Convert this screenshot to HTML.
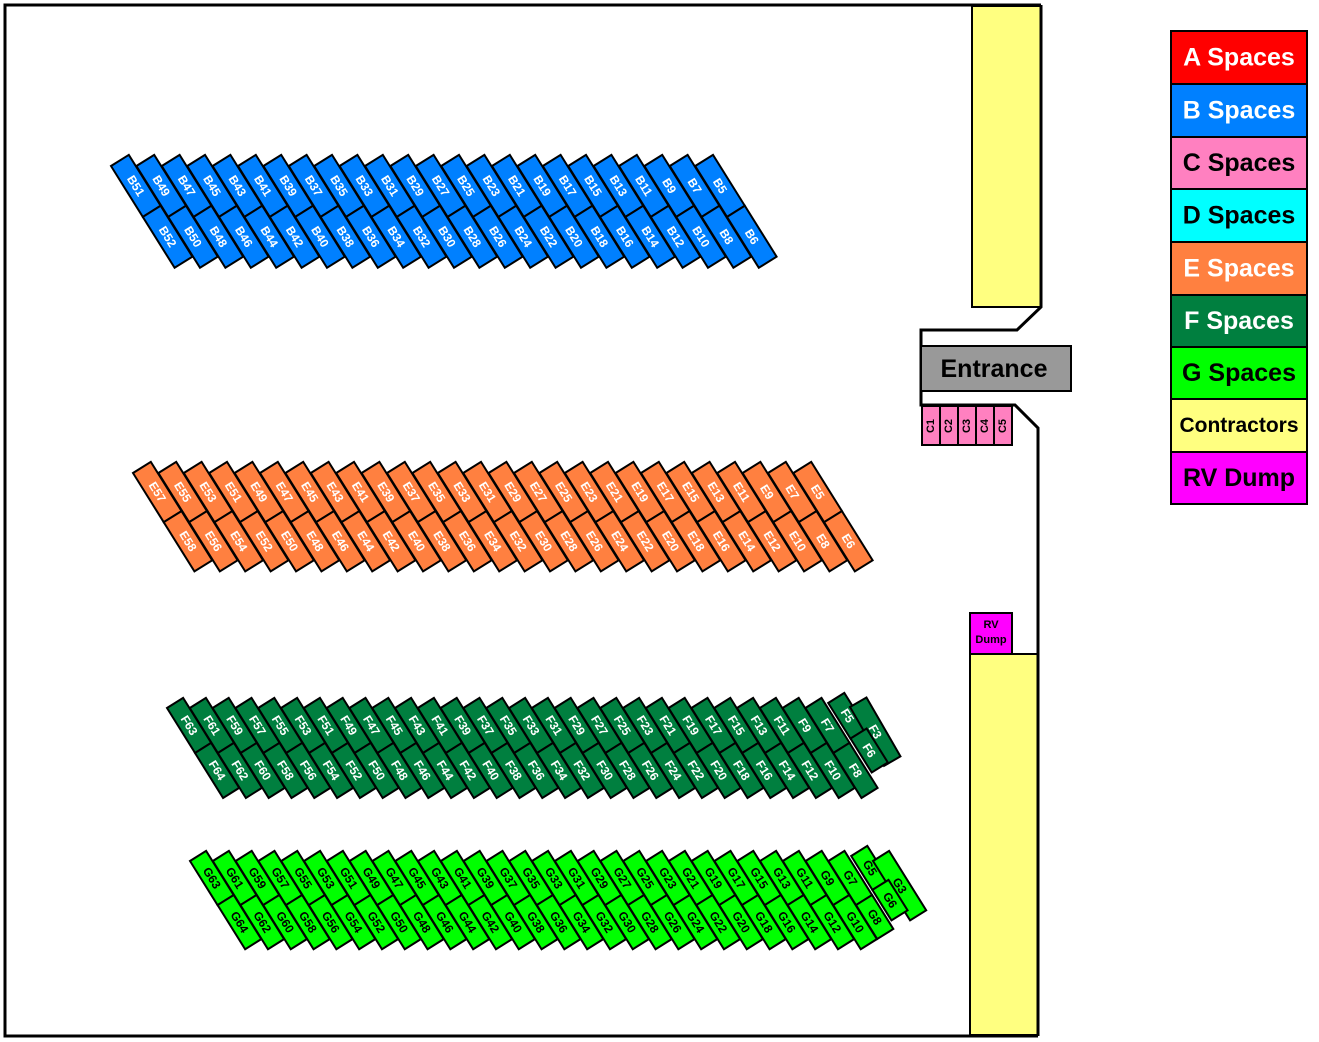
<!DOCTYPE html>
<html><head><meta charset="utf-8"><style>
html,body{margin:0;padding:0;background:#fff}
svg{display:block}
text{font-family:"Liberation Sans",sans-serif;font-weight:bold}
.st text{font-size:12px;text-anchor:middle;dominant-baseline:central}
.st rect{stroke:#000;stroke-width:2}
.b rect{fill:#0080ff}.b text{fill:#fff}
.e rect{fill:#ff8040}.e text{fill:#fff}
.f rect{fill:#007f3f}.f text{fill:#fff}
.g rect{fill:#00ff00}.g text{fill:#000}
.lg rect{stroke:#000;stroke-width:2}
.lg text{font-size:25px;dominant-baseline:central;text-anchor:middle}
</style></head><body>
<svg width="1319" height="1042" viewBox="0 0 1319 1042" xmlns="http://www.w3.org/2000/svg">
<rect x="972" y="6" width="69" height="301" fill="#ffff80" stroke="#000" stroke-width="2"/>
<rect x="970" y="654" width="68" height="381" fill="#ffff80" stroke="#000" stroke-width="2"/>
<path d="M1041,5 H5 V1036 H1038 M1041,5 V307 L1017,330 H921 V405 H1015 L1038,428 V1036" fill="none" stroke="#000" stroke-width="3"/>
<rect x="921" y="346" width="150" height="45" fill="#999" stroke="#000" stroke-width="2"/>
<text x="994" y="369" font-size="25" text-anchor="middle" dominant-baseline="central">Entrance</text>
<g fill="#ff80c0" stroke="#000" stroke-width="2">
<rect x="922" y="406" width="18" height="39"/><rect x="940" y="406" width="18" height="39"/><rect x="958" y="406" width="18" height="39"/><rect x="976" y="406" width="18" height="39"/><rect x="994" y="406" width="18" height="39"/>
</g>
<g font-size="11" text-anchor="middle" dominant-baseline="central">
<text transform="translate(931,426) rotate(-90)">C1</text><text transform="translate(949,426) rotate(-90)">C2</text><text transform="translate(967,426) rotate(-90)">C3</text><text transform="translate(985,426) rotate(-90)">C4</text><text transform="translate(1003,426) rotate(-90)">C5</text>
</g>
<rect x="970" y="613" width="42" height="41" fill="#ff00ff" stroke="#000" stroke-width="2"/>
<text x="991" y="625" font-size="11" text-anchor="middle" dominant-baseline="central">RV</text>
<text x="991" y="640" font-size="11" text-anchor="middle" dominant-baseline="central">Dump</text>

<!-- B row -->
<g class="st b" transform="translate(111,166)">
<g transform="translate(0,0) rotate(58)"><rect y="-21" width="60" height="21"/><text x="30" y="-10.5">B51</text></g>
<g transform="translate(25.4,0) rotate(58)"><rect y="-21" width="60" height="21"/><text x="30" y="-10.5">B49</text></g>
<g transform="translate(50.8,0) rotate(58)"><rect y="-21" width="60" height="21"/><text x="30" y="-10.5">B47</text></g>
<g transform="translate(76.2,0) rotate(58)"><rect y="-21" width="60" height="21"/><text x="30" y="-10.5">B45</text></g>
<g transform="translate(101.6,0) rotate(58)"><rect y="-21" width="60" height="21"/><text x="30" y="-10.5">B43</text></g>
<g transform="translate(127,0) rotate(58)"><rect y="-21" width="60" height="21"/><text x="30" y="-10.5">B41</text></g>
<g transform="translate(152.4,0) rotate(58)"><rect y="-21" width="60" height="21"/><text x="30" y="-10.5">B39</text></g>
<g transform="translate(177.8,0) rotate(58)"><rect y="-21" width="60" height="21"/><text x="30" y="-10.5">B37</text></g>
<g transform="translate(203.2,0) rotate(58)"><rect y="-21" width="60" height="21"/><text x="30" y="-10.5">B35</text></g>
<g transform="translate(228.6,0) rotate(58)"><rect y="-21" width="60" height="21"/><text x="30" y="-10.5">B33</text></g>
<g transform="translate(254,0) rotate(58)"><rect y="-21" width="60" height="21"/><text x="30" y="-10.5">B31</text></g>
<g transform="translate(279.4,0) rotate(58)"><rect y="-21" width="60" height="21"/><text x="30" y="-10.5">B29</text></g>
<g transform="translate(304.8,0) rotate(58)"><rect y="-21" width="60" height="21"/><text x="30" y="-10.5">B27</text></g>
<g transform="translate(330.2,0) rotate(58)"><rect y="-21" width="60" height="21"/><text x="30" y="-10.5">B25</text></g>
<g transform="translate(355.6,0) rotate(58)"><rect y="-21" width="60" height="21"/><text x="30" y="-10.5">B23</text></g>
<g transform="translate(381,0) rotate(58)"><rect y="-21" width="60" height="21"/><text x="30" y="-10.5">B21</text></g>
<g transform="translate(406.4,0) rotate(58)"><rect y="-21" width="60" height="21"/><text x="30" y="-10.5">B19</text></g>
<g transform="translate(431.8,0) rotate(58)"><rect y="-21" width="60" height="21"/><text x="30" y="-10.5">B17</text></g>
<g transform="translate(457.2,0) rotate(58)"><rect y="-21" width="60" height="21"/><text x="30" y="-10.5">B15</text></g>
<g transform="translate(482.6,0) rotate(58)"><rect y="-21" width="60" height="21"/><text x="30" y="-10.5">B13</text></g>
<g transform="translate(508,0) rotate(58)"><rect y="-21" width="60" height="21"/><text x="30" y="-10.5">B11</text></g>
<g transform="translate(533.4,0) rotate(58)"><rect y="-21" width="60" height="21"/><text x="30" y="-10.5">B9</text></g>
<g transform="translate(558.8,0) rotate(58)"><rect y="-21" width="60" height="21"/><text x="30" y="-10.5">B7</text></g>
<g transform="translate(584.2,0) rotate(58)"><rect y="-21" width="60" height="21"/><text x="30" y="-10.5">B5</text></g>
<g transform="translate(31.8,50.9)">
<g transform="translate(0,0) rotate(58)"><rect y="-21" width="60" height="21"/><text x="30" y="-10.5">B52</text></g>
<g transform="translate(25.4,0) rotate(58)"><rect y="-21" width="60" height="21"/><text x="30" y="-10.5">B50</text></g>
<g transform="translate(50.8,0) rotate(58)"><rect y="-21" width="60" height="21"/><text x="30" y="-10.5">B48</text></g>
<g transform="translate(76.2,0) rotate(58)"><rect y="-21" width="60" height="21"/><text x="30" y="-10.5">B46</text></g>
<g transform="translate(101.6,0) rotate(58)"><rect y="-21" width="60" height="21"/><text x="30" y="-10.5">B44</text></g>
<g transform="translate(127,0) rotate(58)"><rect y="-21" width="60" height="21"/><text x="30" y="-10.5">B42</text></g>
<g transform="translate(152.4,0) rotate(58)"><rect y="-21" width="60" height="21"/><text x="30" y="-10.5">B40</text></g>
<g transform="translate(177.8,0) rotate(58)"><rect y="-21" width="60" height="21"/><text x="30" y="-10.5">B38</text></g>
<g transform="translate(203.2,0) rotate(58)"><rect y="-21" width="60" height="21"/><text x="30" y="-10.5">B36</text></g>
<g transform="translate(228.6,0) rotate(58)"><rect y="-21" width="60" height="21"/><text x="30" y="-10.5">B34</text></g>
<g transform="translate(254,0) rotate(58)"><rect y="-21" width="60" height="21"/><text x="30" y="-10.5">B32</text></g>
<g transform="translate(279.4,0) rotate(58)"><rect y="-21" width="60" height="21"/><text x="30" y="-10.5">B30</text></g>
<g transform="translate(304.8,0) rotate(58)"><rect y="-21" width="60" height="21"/><text x="30" y="-10.5">B28</text></g>
<g transform="translate(330.2,0) rotate(58)"><rect y="-21" width="60" height="21"/><text x="30" y="-10.5">B26</text></g>
<g transform="translate(355.6,0) rotate(58)"><rect y="-21" width="60" height="21"/><text x="30" y="-10.5">B24</text></g>
<g transform="translate(381,0) rotate(58)"><rect y="-21" width="60" height="21"/><text x="30" y="-10.5">B22</text></g>
<g transform="translate(406.4,0) rotate(58)"><rect y="-21" width="60" height="21"/><text x="30" y="-10.5">B20</text></g>
<g transform="translate(431.8,0) rotate(58)"><rect y="-21" width="60" height="21"/><text x="30" y="-10.5">B18</text></g>
<g transform="translate(457.2,0) rotate(58)"><rect y="-21" width="60" height="21"/><text x="30" y="-10.5">B16</text></g>
<g transform="translate(482.6,0) rotate(58)"><rect y="-21" width="60" height="21"/><text x="30" y="-10.5">B14</text></g>
<g transform="translate(508,0) rotate(58)"><rect y="-21" width="60" height="21"/><text x="30" y="-10.5">B12</text></g>
<g transform="translate(533.4,0) rotate(58)"><rect y="-21" width="60" height="21"/><text x="30" y="-10.5">B10</text></g>
<g transform="translate(558.8,0) rotate(58)"><rect y="-21" width="60" height="21"/><text x="30" y="-10.5">B8</text></g>
<g transform="translate(584.2,0) rotate(58)"><rect y="-21" width="60" height="21"/><text x="30" y="-10.5">B6</text></g>
</g></g>

<!-- E row -->
<g class="st e" transform="translate(133,473)">
<g transform="translate(0,0) rotate(58)"><rect y="-21" width="58" height="21"/><text x="29" y="-10.5">E57</text></g>
<g transform="translate(25.4,0) rotate(58)"><rect y="-21" width="58" height="21"/><text x="29" y="-10.5">E55</text></g>
<g transform="translate(50.8,0) rotate(58)"><rect y="-21" width="58" height="21"/><text x="29" y="-10.5">E53</text></g>
<g transform="translate(76.2,0) rotate(58)"><rect y="-21" width="58" height="21"/><text x="29" y="-10.5">E51</text></g>
<g transform="translate(101.6,0) rotate(58)"><rect y="-21" width="58" height="21"/><text x="29" y="-10.5">E49</text></g>
<g transform="translate(127,0) rotate(58)"><rect y="-21" width="58" height="21"/><text x="29" y="-10.5">E47</text></g>
<g transform="translate(152.4,0) rotate(58)"><rect y="-21" width="58" height="21"/><text x="29" y="-10.5">E45</text></g>
<g transform="translate(177.8,0) rotate(58)"><rect y="-21" width="58" height="21"/><text x="29" y="-10.5">E43</text></g>
<g transform="translate(203.2,0) rotate(58)"><rect y="-21" width="58" height="21"/><text x="29" y="-10.5">E41</text></g>
<g transform="translate(228.6,0) rotate(58)"><rect y="-21" width="58" height="21"/><text x="29" y="-10.5">E39</text></g>
<g transform="translate(254,0) rotate(58)"><rect y="-21" width="58" height="21"/><text x="29" y="-10.5">E37</text></g>
<g transform="translate(279.4,0) rotate(58)"><rect y="-21" width="58" height="21"/><text x="29" y="-10.5">E35</text></g>
<g transform="translate(304.8,0) rotate(58)"><rect y="-21" width="58" height="21"/><text x="29" y="-10.5">E33</text></g>
<g transform="translate(330.2,0) rotate(58)"><rect y="-21" width="58" height="21"/><text x="29" y="-10.5">E31</text></g>
<g transform="translate(355.6,0) rotate(58)"><rect y="-21" width="58" height="21"/><text x="29" y="-10.5">E29</text></g>
<g transform="translate(381,0) rotate(58)"><rect y="-21" width="58" height="21"/><text x="29" y="-10.5">E27</text></g>
<g transform="translate(406.4,0) rotate(58)"><rect y="-21" width="58" height="21"/><text x="29" y="-10.5">E25</text></g>
<g transform="translate(431.8,0) rotate(58)"><rect y="-21" width="58" height="21"/><text x="29" y="-10.5">E23</text></g>
<g transform="translate(457.2,0) rotate(58)"><rect y="-21" width="58" height="21"/><text x="29" y="-10.5">E21</text></g>
<g transform="translate(482.6,0) rotate(58)"><rect y="-21" width="58" height="21"/><text x="29" y="-10.5">E19</text></g>
<g transform="translate(508,0) rotate(58)"><rect y="-21" width="58" height="21"/><text x="29" y="-10.5">E17</text></g>
<g transform="translate(533.4,0) rotate(58)"><rect y="-21" width="58" height="21"/><text x="29" y="-10.5">E15</text></g>
<g transform="translate(558.8,0) rotate(58)"><rect y="-21" width="58" height="21"/><text x="29" y="-10.5">E13</text></g>
<g transform="translate(584.2,0) rotate(58)"><rect y="-21" width="58" height="21"/><text x="29" y="-10.5">E11</text></g>
<g transform="translate(609.6,0) rotate(58)"><rect y="-21" width="58" height="21"/><text x="29" y="-10.5">E9</text></g>
<g transform="translate(635,0) rotate(58)"><rect y="-21" width="58" height="21"/><text x="29" y="-10.5">E7</text></g>
<g transform="translate(660.4,0) rotate(58)"><rect y="-21" width="58" height="21"/><text x="29" y="-10.5">E5</text></g>
<g transform="translate(30.7,49.2)">
<g transform="translate(0,0) rotate(58)"><rect y="-21" width="58" height="21"/><text x="29" y="-10.5">E58</text></g>
<g transform="translate(25.4,0) rotate(58)"><rect y="-21" width="58" height="21"/><text x="29" y="-10.5">E56</text></g>
<g transform="translate(50.8,0) rotate(58)"><rect y="-21" width="58" height="21"/><text x="29" y="-10.5">E54</text></g>
<g transform="translate(76.2,0) rotate(58)"><rect y="-21" width="58" height="21"/><text x="29" y="-10.5">E52</text></g>
<g transform="translate(101.6,0) rotate(58)"><rect y="-21" width="58" height="21"/><text x="29" y="-10.5">E50</text></g>
<g transform="translate(127,0) rotate(58)"><rect y="-21" width="58" height="21"/><text x="29" y="-10.5">E48</text></g>
<g transform="translate(152.4,0) rotate(58)"><rect y="-21" width="58" height="21"/><text x="29" y="-10.5">E46</text></g>
<g transform="translate(177.8,0) rotate(58)"><rect y="-21" width="58" height="21"/><text x="29" y="-10.5">E44</text></g>
<g transform="translate(203.2,0) rotate(58)"><rect y="-21" width="58" height="21"/><text x="29" y="-10.5">E42</text></g>
<g transform="translate(228.6,0) rotate(58)"><rect y="-21" width="58" height="21"/><text x="29" y="-10.5">E40</text></g>
<g transform="translate(254,0) rotate(58)"><rect y="-21" width="58" height="21"/><text x="29" y="-10.5">E38</text></g>
<g transform="translate(279.4,0) rotate(58)"><rect y="-21" width="58" height="21"/><text x="29" y="-10.5">E36</text></g>
<g transform="translate(304.8,0) rotate(58)"><rect y="-21" width="58" height="21"/><text x="29" y="-10.5">E34</text></g>
<g transform="translate(330.2,0) rotate(58)"><rect y="-21" width="58" height="21"/><text x="29" y="-10.5">E32</text></g>
<g transform="translate(355.6,0) rotate(58)"><rect y="-21" width="58" height="21"/><text x="29" y="-10.5">E30</text></g>
<g transform="translate(381,0) rotate(58)"><rect y="-21" width="58" height="21"/><text x="29" y="-10.5">E28</text></g>
<g transform="translate(406.4,0) rotate(58)"><rect y="-21" width="58" height="21"/><text x="29" y="-10.5">E26</text></g>
<g transform="translate(431.8,0) rotate(58)"><rect y="-21" width="58" height="21"/><text x="29" y="-10.5">E24</text></g>
<g transform="translate(457.2,0) rotate(58)"><rect y="-21" width="58" height="21"/><text x="29" y="-10.5">E22</text></g>
<g transform="translate(482.6,0) rotate(58)"><rect y="-21" width="58" height="21"/><text x="29" y="-10.5">E20</text></g>
<g transform="translate(508,0) rotate(58)"><rect y="-21" width="58" height="21"/><text x="29" y="-10.5">E18</text></g>
<g transform="translate(533.4,0) rotate(58)"><rect y="-21" width="58" height="21"/><text x="29" y="-10.5">E16</text></g>
<g transform="translate(558.8,0) rotate(58)"><rect y="-21" width="58" height="21"/><text x="29" y="-10.5">E14</text></g>
<g transform="translate(584.2,0) rotate(58)"><rect y="-21" width="58" height="21"/><text x="29" y="-10.5">E12</text></g>
<g transform="translate(609.6,0) rotate(58)"><rect y="-21" width="58" height="21"/><text x="29" y="-10.5">E10</text></g>
<g transform="translate(635,0) rotate(58)"><rect y="-21" width="58" height="21"/><text x="29" y="-10.5">E8</text></g>
<g transform="translate(660.4,0) rotate(58)"><rect y="-21" width="58" height="21"/><text x="29" y="-10.5">E6</text></g>
</g></g>

<!-- F row -->
<g class="st f" transform="translate(167,708)">
<g transform="translate(0,0) rotate(58)"><rect y="-19" width="53" height="19"/><text x="26.5" y="-9.5">F63</text></g>
<g transform="translate(22.8,0) rotate(58)"><rect y="-19" width="53" height="19"/><text x="26.5" y="-9.5">F61</text></g>
<g transform="translate(45.6,0) rotate(58)"><rect y="-19" width="53" height="19"/><text x="26.5" y="-9.5">F59</text></g>
<g transform="translate(68.4,0) rotate(58)"><rect y="-19" width="53" height="19"/><text x="26.5" y="-9.5">F57</text></g>
<g transform="translate(91.2,0) rotate(58)"><rect y="-19" width="53" height="19"/><text x="26.5" y="-9.5">F55</text></g>
<g transform="translate(114,0) rotate(58)"><rect y="-19" width="53" height="19"/><text x="26.5" y="-9.5">F53</text></g>
<g transform="translate(136.8,0) rotate(58)"><rect y="-19" width="53" height="19"/><text x="26.5" y="-9.5">F51</text></g>
<g transform="translate(159.6,0) rotate(58)"><rect y="-19" width="53" height="19"/><text x="26.5" y="-9.5">F49</text></g>
<g transform="translate(182.4,0) rotate(58)"><rect y="-19" width="53" height="19"/><text x="26.5" y="-9.5">F47</text></g>
<g transform="translate(205.2,0) rotate(58)"><rect y="-19" width="53" height="19"/><text x="26.5" y="-9.5">F45</text></g>
<g transform="translate(228,0) rotate(58)"><rect y="-19" width="53" height="19"/><text x="26.5" y="-9.5">F43</text></g>
<g transform="translate(250.8,0) rotate(58)"><rect y="-19" width="53" height="19"/><text x="26.5" y="-9.5">F41</text></g>
<g transform="translate(273.6,0) rotate(58)"><rect y="-19" width="53" height="19"/><text x="26.5" y="-9.5">F39</text></g>
<g transform="translate(296.4,0) rotate(58)"><rect y="-19" width="53" height="19"/><text x="26.5" y="-9.5">F37</text></g>
<g transform="translate(319.2,0) rotate(58)"><rect y="-19" width="53" height="19"/><text x="26.5" y="-9.5">F35</text></g>
<g transform="translate(342,0) rotate(58)"><rect y="-19" width="53" height="19"/><text x="26.5" y="-9.5">F33</text></g>
<g transform="translate(364.8,0) rotate(58)"><rect y="-19" width="53" height="19"/><text x="26.5" y="-9.5">F31</text></g>
<g transform="translate(387.6,0) rotate(58)"><rect y="-19" width="53" height="19"/><text x="26.5" y="-9.5">F29</text></g>
<g transform="translate(410.4,0) rotate(58)"><rect y="-19" width="53" height="19"/><text x="26.5" y="-9.5">F27</text></g>
<g transform="translate(433.2,0) rotate(58)"><rect y="-19" width="53" height="19"/><text x="26.5" y="-9.5">F25</text></g>
<g transform="translate(456,0) rotate(58)"><rect y="-19" width="53" height="19"/><text x="26.5" y="-9.5">F23</text></g>
<g transform="translate(478.8,0) rotate(58)"><rect y="-19" width="53" height="19"/><text x="26.5" y="-9.5">F21</text></g>
<g transform="translate(501.6,0) rotate(58)"><rect y="-19" width="53" height="19"/><text x="26.5" y="-9.5">F19</text></g>
<g transform="translate(524.4,0) rotate(58)"><rect y="-19" width="53" height="19"/><text x="26.5" y="-9.5">F17</text></g>
<g transform="translate(547.2,0) rotate(58)"><rect y="-19" width="53" height="19"/><text x="26.5" y="-9.5">F15</text></g>
<g transform="translate(570,0) rotate(58)"><rect y="-19" width="53" height="19"/><text x="26.5" y="-9.5">F13</text></g>
<g transform="translate(592.8,0) rotate(58)"><rect y="-19" width="53" height="19"/><text x="26.5" y="-9.5">F11</text></g>
<g transform="translate(615.6,0) rotate(58)"><rect y="-19" width="53" height="19"/><text x="26.5" y="-9.5">F9</text></g>
<g transform="translate(638.4,0) rotate(58)"><rect y="-19" width="53" height="19"/><text x="26.5" y="-9.5">F7</text></g>
<g transform="translate(661.2,-5) rotate(58)"><rect y="-19" width="42" height="19"/><text x="21" y="-9.5">F5</text></g>
<g transform="translate(683,-1) rotate(60)"><rect y="-19" width="68" height="19"/><text x="34" y="-9.5">F3</text></g>
<g transform="translate(683.5,30.6) rotate(58)"><rect y="-19" width="40" height="19"/><text x="20" y="-9.5">F6</text></g>
<g transform="translate(28,45)">
<g transform="translate(0,0) rotate(58)"><rect y="-19" width="53" height="19"/><text x="26.5" y="-9.5">F64</text></g>
<g transform="translate(22.8,0) rotate(58)"><rect y="-19" width="53" height="19"/><text x="26.5" y="-9.5">F62</text></g>
<g transform="translate(45.6,0) rotate(58)"><rect y="-19" width="53" height="19"/><text x="26.5" y="-9.5">F60</text></g>
<g transform="translate(68.4,0) rotate(58)"><rect y="-19" width="53" height="19"/><text x="26.5" y="-9.5">F58</text></g>
<g transform="translate(91.2,0) rotate(58)"><rect y="-19" width="53" height="19"/><text x="26.5" y="-9.5">F56</text></g>
<g transform="translate(114,0) rotate(58)"><rect y="-19" width="53" height="19"/><text x="26.5" y="-9.5">F54</text></g>
<g transform="translate(136.8,0) rotate(58)"><rect y="-19" width="53" height="19"/><text x="26.5" y="-9.5">F52</text></g>
<g transform="translate(159.6,0) rotate(58)"><rect y="-19" width="53" height="19"/><text x="26.5" y="-9.5">F50</text></g>
<g transform="translate(182.4,0) rotate(58)"><rect y="-19" width="53" height="19"/><text x="26.5" y="-9.5">F48</text></g>
<g transform="translate(205.2,0) rotate(58)"><rect y="-19" width="53" height="19"/><text x="26.5" y="-9.5">F46</text></g>
<g transform="translate(228,0) rotate(58)"><rect y="-19" width="53" height="19"/><text x="26.5" y="-9.5">F44</text></g>
<g transform="translate(250.8,0) rotate(58)"><rect y="-19" width="53" height="19"/><text x="26.5" y="-9.5">F42</text></g>
<g transform="translate(273.6,0) rotate(58)"><rect y="-19" width="53" height="19"/><text x="26.5" y="-9.5">F40</text></g>
<g transform="translate(296.4,0) rotate(58)"><rect y="-19" width="53" height="19"/><text x="26.5" y="-9.5">F38</text></g>
<g transform="translate(319.2,0) rotate(58)"><rect y="-19" width="53" height="19"/><text x="26.5" y="-9.5">F36</text></g>
<g transform="translate(342,0) rotate(58)"><rect y="-19" width="53" height="19"/><text x="26.5" y="-9.5">F34</text></g>
<g transform="translate(364.8,0) rotate(58)"><rect y="-19" width="53" height="19"/><text x="26.5" y="-9.5">F32</text></g>
<g transform="translate(387.6,0) rotate(58)"><rect y="-19" width="53" height="19"/><text x="26.5" y="-9.5">F30</text></g>
<g transform="translate(410.4,0) rotate(58)"><rect y="-19" width="53" height="19"/><text x="26.5" y="-9.5">F28</text></g>
<g transform="translate(433.2,0) rotate(58)"><rect y="-19" width="53" height="19"/><text x="26.5" y="-9.5">F26</text></g>
<g transform="translate(456,0) rotate(58)"><rect y="-19" width="53" height="19"/><text x="26.5" y="-9.5">F24</text></g>
<g transform="translate(478.8,0) rotate(58)"><rect y="-19" width="53" height="19"/><text x="26.5" y="-9.5">F22</text></g>
<g transform="translate(501.6,0) rotate(58)"><rect y="-19" width="53" height="19"/><text x="26.5" y="-9.5">F20</text></g>
<g transform="translate(524.4,0) rotate(58)"><rect y="-19" width="53" height="19"/><text x="26.5" y="-9.5">F18</text></g>
<g transform="translate(547.2,0) rotate(58)"><rect y="-19" width="53" height="19"/><text x="26.5" y="-9.5">F16</text></g>
<g transform="translate(570,0) rotate(58)"><rect y="-19" width="53" height="19"/><text x="26.5" y="-9.5">F14</text></g>
<g transform="translate(592.8,0) rotate(58)"><rect y="-19" width="53" height="19"/><text x="26.5" y="-9.5">F12</text></g>
<g transform="translate(615.6,0) rotate(58)"><rect y="-19" width="53" height="19"/><text x="26.5" y="-9.5">F10</text></g>
<g transform="translate(638.4,0) rotate(58)"><rect y="-19" width="53" height="19"/><text x="26.5" y="-9.5">F8</text></g>
</g></g>

<!-- G row -->
<g class="st g" transform="translate(190,861)">
<g transform="translate(0,0) rotate(58)"><rect y="-19" width="52" height="19"/><text x="26" y="-9.5">G63</text></g>
<g transform="translate(22.8,0) rotate(58)"><rect y="-19" width="52" height="19"/><text x="26" y="-9.5">G61</text></g>
<g transform="translate(45.6,0) rotate(58)"><rect y="-19" width="52" height="19"/><text x="26" y="-9.5">G59</text></g>
<g transform="translate(68.4,0) rotate(58)"><rect y="-19" width="52" height="19"/><text x="26" y="-9.5">G57</text></g>
<g transform="translate(91.2,0) rotate(58)"><rect y="-19" width="52" height="19"/><text x="26" y="-9.5">G55</text></g>
<g transform="translate(114,0) rotate(58)"><rect y="-19" width="52" height="19"/><text x="26" y="-9.5">G53</text></g>
<g transform="translate(136.8,0) rotate(58)"><rect y="-19" width="52" height="19"/><text x="26" y="-9.5">G51</text></g>
<g transform="translate(159.6,0) rotate(58)"><rect y="-19" width="52" height="19"/><text x="26" y="-9.5">G49</text></g>
<g transform="translate(182.4,0) rotate(58)"><rect y="-19" width="52" height="19"/><text x="26" y="-9.5">G47</text></g>
<g transform="translate(205.2,0) rotate(58)"><rect y="-19" width="52" height="19"/><text x="26" y="-9.5">G45</text></g>
<g transform="translate(228,0) rotate(58)"><rect y="-19" width="52" height="19"/><text x="26" y="-9.5">G43</text></g>
<g transform="translate(250.8,0) rotate(58)"><rect y="-19" width="52" height="19"/><text x="26" y="-9.5">G41</text></g>
<g transform="translate(273.6,0) rotate(58)"><rect y="-19" width="52" height="19"/><text x="26" y="-9.5">G39</text></g>
<g transform="translate(296.4,0) rotate(58)"><rect y="-19" width="52" height="19"/><text x="26" y="-9.5">G37</text></g>
<g transform="translate(319.2,0) rotate(58)"><rect y="-19" width="52" height="19"/><text x="26" y="-9.5">G35</text></g>
<g transform="translate(342,0) rotate(58)"><rect y="-19" width="52" height="19"/><text x="26" y="-9.5">G33</text></g>
<g transform="translate(364.8,0) rotate(58)"><rect y="-19" width="52" height="19"/><text x="26" y="-9.5">G31</text></g>
<g transform="translate(387.6,0) rotate(58)"><rect y="-19" width="52" height="19"/><text x="26" y="-9.5">G29</text></g>
<g transform="translate(410.4,0) rotate(58)"><rect y="-19" width="52" height="19"/><text x="26" y="-9.5">G27</text></g>
<g transform="translate(433.2,0) rotate(58)"><rect y="-19" width="52" height="19"/><text x="26" y="-9.5">G25</text></g>
<g transform="translate(456,0) rotate(58)"><rect y="-19" width="52" height="19"/><text x="26" y="-9.5">G23</text></g>
<g transform="translate(478.8,0) rotate(58)"><rect y="-19" width="52" height="19"/><text x="26" y="-9.5">G21</text></g>
<g transform="translate(501.6,0) rotate(58)"><rect y="-19" width="52" height="19"/><text x="26" y="-9.5">G19</text></g>
<g transform="translate(524.4,0) rotate(58)"><rect y="-19" width="52" height="19"/><text x="26" y="-9.5">G17</text></g>
<g transform="translate(547.2,0) rotate(58)"><rect y="-19" width="52" height="19"/><text x="26" y="-9.5">G15</text></g>
<g transform="translate(570,0) rotate(58)"><rect y="-19" width="52" height="19"/><text x="26" y="-9.5">G13</text></g>
<g transform="translate(592.8,0) rotate(58)"><rect y="-19" width="52" height="19"/><text x="26" y="-9.5">G11</text></g>
<g transform="translate(615.6,0) rotate(58)"><rect y="-19" width="52" height="19"/><text x="26" y="-9.5">G9</text></g>
<g transform="translate(638.4,0) rotate(58)"><rect y="-19" width="52" height="19"/><text x="26" y="-9.5">G7</text></g>
<g transform="translate(661.2,-5) rotate(58)"><rect y="-19" width="40" height="19"/><text x="20" y="-9.5">G5</text></g>
<g transform="translate(683,0) rotate(58)"><rect y="-19" width="70" height="19"/><text x="35" y="-9.5">G3</text></g>
<g transform="translate(682.4,28.9) rotate(58)"><rect y="-19" width="36" height="19"/><text x="18" y="-9.5">G6</text></g>
<g transform="translate(27.6,44.1)">
<g transform="translate(0,0) rotate(58)"><rect y="-19" width="52" height="19"/><text x="26" y="-9.5">G64</text></g>
<g transform="translate(22.8,0) rotate(58)"><rect y="-19" width="52" height="19"/><text x="26" y="-9.5">G62</text></g>
<g transform="translate(45.6,0) rotate(58)"><rect y="-19" width="52" height="19"/><text x="26" y="-9.5">G60</text></g>
<g transform="translate(68.4,0) rotate(58)"><rect y="-19" width="52" height="19"/><text x="26" y="-9.5">G58</text></g>
<g transform="translate(91.2,0) rotate(58)"><rect y="-19" width="52" height="19"/><text x="26" y="-9.5">G56</text></g>
<g transform="translate(114,0) rotate(58)"><rect y="-19" width="52" height="19"/><text x="26" y="-9.5">G54</text></g>
<g transform="translate(136.8,0) rotate(58)"><rect y="-19" width="52" height="19"/><text x="26" y="-9.5">G52</text></g>
<g transform="translate(159.6,0) rotate(58)"><rect y="-19" width="52" height="19"/><text x="26" y="-9.5">G50</text></g>
<g transform="translate(182.4,0) rotate(58)"><rect y="-19" width="52" height="19"/><text x="26" y="-9.5">G48</text></g>
<g transform="translate(205.2,0) rotate(58)"><rect y="-19" width="52" height="19"/><text x="26" y="-9.5">G46</text></g>
<g transform="translate(228,0) rotate(58)"><rect y="-19" width="52" height="19"/><text x="26" y="-9.5">G44</text></g>
<g transform="translate(250.8,0) rotate(58)"><rect y="-19" width="52" height="19"/><text x="26" y="-9.5">G42</text></g>
<g transform="translate(273.6,0) rotate(58)"><rect y="-19" width="52" height="19"/><text x="26" y="-9.5">G40</text></g>
<g transform="translate(296.4,0) rotate(58)"><rect y="-19" width="52" height="19"/><text x="26" y="-9.5">G38</text></g>
<g transform="translate(319.2,0) rotate(58)"><rect y="-19" width="52" height="19"/><text x="26" y="-9.5">G36</text></g>
<g transform="translate(342,0) rotate(58)"><rect y="-19" width="52" height="19"/><text x="26" y="-9.5">G34</text></g>
<g transform="translate(364.8,0) rotate(58)"><rect y="-19" width="52" height="19"/><text x="26" y="-9.5">G32</text></g>
<g transform="translate(387.6,0) rotate(58)"><rect y="-19" width="52" height="19"/><text x="26" y="-9.5">G30</text></g>
<g transform="translate(410.4,0) rotate(58)"><rect y="-19" width="52" height="19"/><text x="26" y="-9.5">G28</text></g>
<g transform="translate(433.2,0) rotate(58)"><rect y="-19" width="52" height="19"/><text x="26" y="-9.5">G26</text></g>
<g transform="translate(456,0) rotate(58)"><rect y="-19" width="52" height="19"/><text x="26" y="-9.5">G24</text></g>
<g transform="translate(478.8,0) rotate(58)"><rect y="-19" width="52" height="19"/><text x="26" y="-9.5">G22</text></g>
<g transform="translate(501.6,0) rotate(58)"><rect y="-19" width="52" height="19"/><text x="26" y="-9.5">G20</text></g>
<g transform="translate(524.4,0) rotate(58)"><rect y="-19" width="52" height="19"/><text x="26" y="-9.5">G18</text></g>
<g transform="translate(547.2,0) rotate(58)"><rect y="-19" width="52" height="19"/><text x="26" y="-9.5">G16</text></g>
<g transform="translate(570,0) rotate(58)"><rect y="-19" width="52" height="19"/><text x="26" y="-9.5">G14</text></g>
<g transform="translate(592.8,0) rotate(58)"><rect y="-19" width="52" height="19"/><text x="26" y="-9.5">G12</text></g>
<g transform="translate(615.6,0) rotate(58)"><rect y="-19" width="52" height="19"/><text x="26" y="-9.5">G10</text></g>
<g transform="translate(638.4,0) rotate(58)"><rect y="-19" width="40" height="19"/><text x="20" y="-9.5">G8</text></g>
</g></g>

<!-- Legend -->
<g class="lg">
<rect x="1171" y="31" width="136" height="53" fill="#ff0000"/><text x="1239" y="57.5" fill="#fff">A Spaces</text>
<rect x="1171" y="84" width="136" height="53" fill="#0080ff"/><text x="1239" y="110.5" fill="#fff">B Spaces</text>
<rect x="1171" y="137" width="136" height="52" fill="#ff80c0"/><text x="1239" y="163" fill="#000">C Spaces</text>
<rect x="1171" y="189" width="136" height="53" fill="#00ffff"/><text x="1239" y="215.5" fill="#000">D Spaces</text>
<rect x="1171" y="242" width="136" height="53" fill="#ff8040"/><text x="1239" y="268.5" fill="#fff">E Spaces</text>
<rect x="1171" y="295" width="136" height="52" fill="#007f3f"/><text x="1239" y="321" fill="#fff">F Spaces</text>
<rect x="1171" y="347" width="136" height="52" fill="#00ff00"/><text x="1239" y="373" fill="#000">G Spaces</text>
<rect x="1171" y="399" width="136" height="53" fill="#ffff80"/><text x="1239" y="425.5" fill="#000" style="font-size:21px">Contractors</text>
<rect x="1171" y="452" width="136" height="52" fill="#ff00ff"/><text x="1239" y="478" fill="#000">RV Dump</text>
</g>
</svg>
</body></html>
